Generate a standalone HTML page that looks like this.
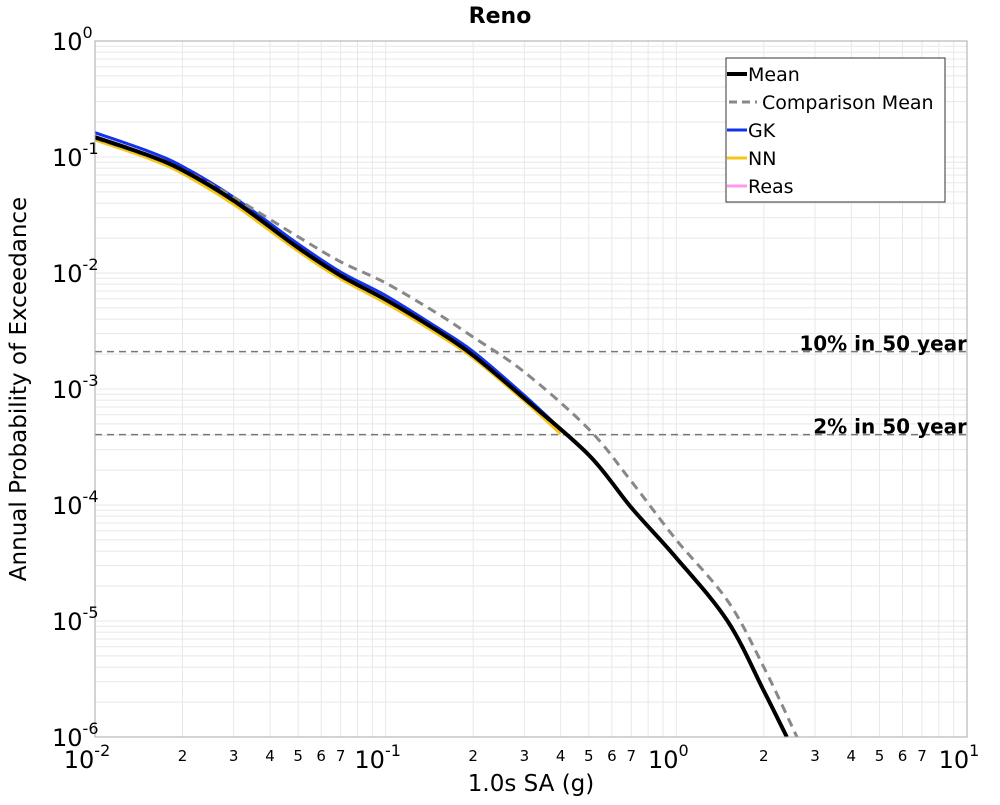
<!DOCTYPE html>
<html><head><meta charset="utf-8"><style>
body{margin:0;background:#fff;}
svg text{font-family:"DejaVu Sans","Liberation Sans",sans-serif;}
</style></head><body>
<svg id="chart" width="1000" height="800" xmlns="http://www.w3.org/2000/svg">
<rect x="0" y="0" width="1000" height="800" fill="#fff"/>
<g id="grid"></g>
<g id="refs"></g>
<g id="series"></g>
<rect x="95" y="41" width="872" height="696" fill="none" stroke="#aaa" stroke-width="1"/>
<g id="ticks"></g>
<text x="500" y="23" text-anchor="middle" font-size="22" font-weight="bold">Reno</text>
<text x="531" y="791" text-anchor="middle" font-size="23">1.0s SA (g)</text>
<text transform="translate(26,389) rotate(-90)" text-anchor="middle" font-size="23">Annual Probability of Exceedance</text>
<g>
<rect x="726" y="58" width="219" height="144" fill="#fff" stroke="#333" stroke-width="1"/>
<line x1="727" y1="74" x2="747" y2="74" stroke="#000" stroke-width="4"/>
<text x="748" y="81" font-size="19">Mean</text>
<line x1="729" y1="102" x2="757" y2="102" stroke="#888" stroke-width="3" stroke-dasharray="8,5"/>
<text x="762" y="109" font-size="19">Comparison Mean</text>
<line x1="727" y1="130" x2="747" y2="130" stroke="#1133ee" stroke-width="3"/>
<text x="748" y="137" font-size="19">GK</text>
<line x1="727" y1="158" x2="747" y2="158" stroke="#f5c518" stroke-width="3"/>
<text x="748" y="165" font-size="19">NN</text>
<line x1="727" y1="186" x2="747" y2="186" stroke="#ff99ee" stroke-width="3"/>
<text x="748" y="193" font-size="19">Reas</text>
</g>
</svg>
<script>
const xVals=[0.01,0.015,0.02,0.03,0.05,0.07,0.1,0.15,0.2,0.3,0.5,0.7,1,1.5,2,2.4];
const meanVals=[0.148,0.105,0.077,0.042,0.0165,0.0095,0.0059,0.0032,0.00195,0.00083,0.00027,0.000095,0.000035,0.0000100,0.0000025,0.00000100];
const compX=[0.01,0.015,0.02,0.03,0.05,0.07,0.1,0.15,0.2,0.3,0.5,0.7,1,1.5,2,2.6];
const compVals=[0.145,0.104,0.078,0.045,0.0205,0.0125,0.0082,0.0045,0.0028,0.0014,0.00045,0.00016,0.00005,0.000015,0.0000040,0.00000100];
const gkX=[0.01,0.015,0.02,0.03,0.05,0.07,0.1,0.15,0.2,0.3,0.4];
const gkVals=[0.162,0.114,0.083,0.045,0.0178,0.0102,0.0064,0.0034,0.0021,0.00088,0.00045];
const nnX=[0.01,0.015,0.02,0.03,0.05,0.07,0.1,0.15,0.2,0.3,0.4];
const nnVals=[0.140,0.099,0.072,0.039,0.0154,0.0089,0.0055,0.0030,0.00185,0.00079,0.00041];
const refVals=[0.0021,0.000404];
const refLabels=["10% in 50 year","2% in 50 year"];
const xDecades=[-2,-1,0,1];
const yDecades=[0,-1,-2,-3,-4,-5,-6];
const X0=95,X1=967,Y0=41,Y1=737;
const xs=v=>X0+(Math.log10(v)+2)/3*(X1-X0);
const ys=v=>Y0+(0-Math.log10(v))/6*(Y1-Y0);
const NS="http://www.w3.org/2000/svg";
function mk(tag,parent,attrs){const e=document.createElementNS(NS,tag);for(const k in attrs)e.setAttribute(k,attrs[k]);parent.appendChild(e);return e;}
const grid=document.getElementById('grid'),ticks=document.getElementById('ticks');
for(let d=-2;d<1;d++){for(let m=1;m<=9;m++){const v=m*Math.pow(10,d);const x=xs(v);
 const l=mk('line',grid,{x1:x,x2:x,y1:Y0,y2:Y1,stroke:'#e8e8e8','stroke-width':1});
 
 
 if(m>1&&m<8){const t=mk('text',ticks,{x:x,y:761,'text-anchor':'middle','font-size':15});t.textContent=m;
 
 }}}
for(let d=-6;d<0;d++){for(let m=1;m<=9;m++){const y=ys(m*Math.pow(10,d));
 const l=mk('line',grid,{x1:X0,x2:X1,y1:y,y2:y,stroke:'#e8e8e8','stroke-width':1});
 
 }}
xDecades.forEach(d=>{const x=xs(Math.pow(10,d));const t=mk('text',ticks,{x:x-8,y:768,'text-anchor':'middle','font-size':24});
 t.innerHTML='10<tspan dy="-12" font-size="16">'+d+'</tspan>';
 
 });
yDecades.forEach(d=>{const y=ys(Math.pow(10,d));const t=mk('text',ticks,{x:52,y:y+9,'font-size':24});
 t.innerHTML='10<tspan dy="-12" font-size="16">'+d+'</tspan>';
 
 });
const refs=document.getElementById('refs');
refVals.forEach((v,i)=>{const y=ys(v);
 const l=mk('line',refs,{x1:X0,x2:X1,y1:y,y2:y,stroke:'#777','stroke-width':1.5,'stroke-dasharray':'7,5'});
 
 
 const t=mk('text',refs,{x:X1,y:y-1,'text-anchor':'end','font-size':20,'font-weight':'bold'});t.textContent=refLabels[i];
 
 });
const ser=document.getElementById('series');
function path(xa,ya){
 const p=xa.map((x,i)=>[xs(x),ys(ya[i])]);
 let d='M'+p[0][0].toFixed(1)+','+p[0][1].toFixed(1);
 for(let i=0;i<p.length-1;i++){
  const p0=p[Math.max(0,i-1)],p1=p[i],p2=p[i+1],p3=p[Math.min(p.length-1,i+2)];
  const c1=[p1[0]+(p2[0]-p0[0])/6,p1[1]+(p2[1]-p0[1])/6];
  const c2=[p2[0]-(p3[0]-p1[0])/6,p2[1]-(p3[1]-p1[1])/6];
  d+='C'+c1[0].toFixed(1)+','+c1[1].toFixed(1)+' '+c2[0].toFixed(1)+','+c2[1].toFixed(1)+' '+p2[0].toFixed(1)+','+p2[1].toFixed(1);
 }
 return d;}
const pg=mk('path',ser,{d:path(gkX,gkVals),fill:'none',stroke:'#1133ee','stroke-width':3});


const pn=mk('path',ser,{d:path(nnX,nnVals),fill:'none',stroke:'#f5c518','stroke-width':3});


const pc=mk('path',ser,{d:path(compX,compVals),fill:'none',stroke:'#888','stroke-width':3,'stroke-dasharray':'9,6'});


const pm=mk('path',ser,{d:path(xVals,meanVals),fill:'none',stroke:'#000','stroke-width':4});


</script>
</body></html>
